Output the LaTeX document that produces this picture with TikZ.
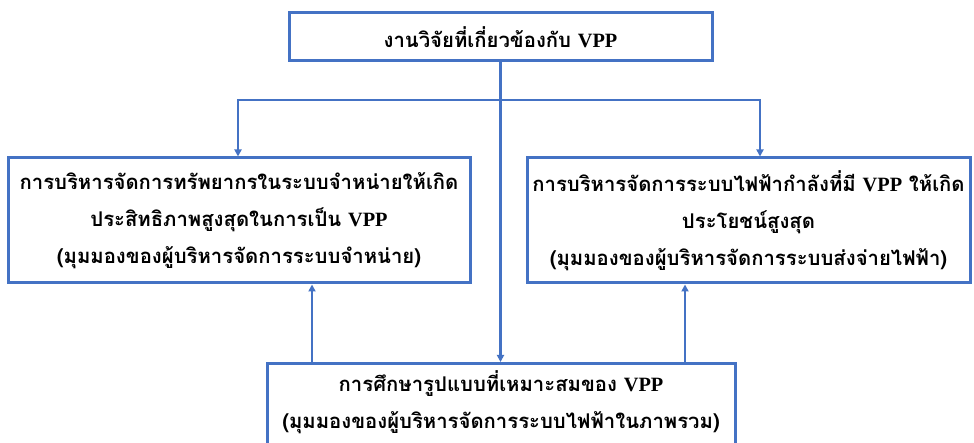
\documentclass[tikz,border=0pt]{standalone}
\usepackage{fontspec}
\setmainfont{Liberation Serif}
\newfontfamily\thai[Script=Thai]{Loma}
\usetikzlibrary{arrows.meta}
\definecolor{lineblue}{HTML}{4472C4}
\newcommand{\vpp}{{\rmfamily\bfseries VPP}}
\begin{document}
\begin{tikzpicture}[x=1pt,y=1pt,
  box/.style={draw=lineblue, line width=3pt, rectangle, inner sep=0pt, align=center, text=black,
              font=\thai\bfseries\fontsize{20.3}{37}\selectfont},
  link/.style={draw=lineblue, line width=2.8pt},
  arr/.style={link, -{Triangle[length=7pt,width=7pt]}}]
\path[use as bounding box] (0,0) rectangle (974,-443);
\clip (0,0) rectangle (974,-443);
\fill[white] (0,0) rectangle (974,-443);
% boxes
\node[box, minimum width=423, minimum height=48] (top) at (500.5,-37) {งานวิจัยที่เกี่ยวข้องกับ \vpp};
\node[box, minimum width=462, minimum height=125] (left) at (239,-220.5)
  {การบริหารจัดการทรัพยากรในระบบจำหน่ายให้เกิด\\ประสิทธิภาพสูงสุดในการเป็น \vpp\\(มุมมองของผู้บริหารจัดการระบบจำหน่าย)};
\node[box, minimum width=443, minimum height=125] (right) at (748.5,-220.5)
  {การบริหารจัดการระบบไฟฟ้ากำลังที่มี \vpp{} ให้เกิด\\ประโยชน์สูงสุด\\(มุมมองของผู้บริหารจัดการระบบส่งจ่ายไฟฟ้า)};
\node[box, minimum width=468, minimum height=130, anchor=north] (bot) at (501,-362) {};
\node[box, draw=none, anchor=north] (bottext) at (501,-369)
  {การศึกษารูปแบบที่เหมาะสมของ \vpp\\(มุมมองของผู้บริหารจัดการระบบไฟฟ้าในภาพรวม)};
% connectors
\coordinate (hm) at (500.5,-100);
\coordinate (hl) at (238,-100);
\coordinate (hr) at (760,-100);
\coordinate (ul) at (312,-362);
\coordinate (ur) at (685,-362);
\draw[arr] (top.south) -- (top.south |- bot.north);
\draw[arr] (hm) -- (hl) -- (hl |- left.north);
\draw[arr] (hm) -- (hr) -- (hr |- right.north);
\draw[arr] (ul) -- (ul |- left.south);
\draw[arr] (ur) -- (ur |- right.south);
\end{tikzpicture}
\end{document}
